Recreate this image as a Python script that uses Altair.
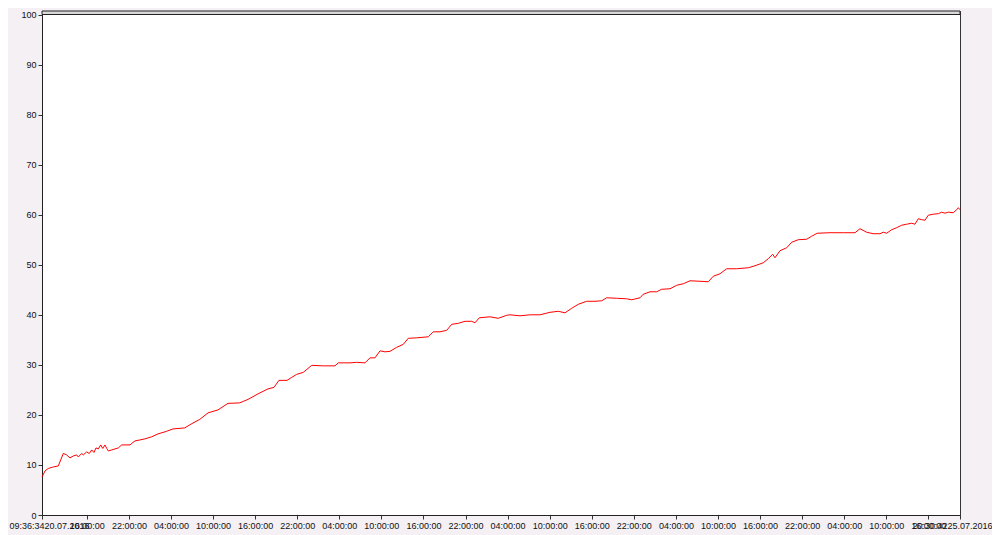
import altair as alt
import pandas as pd

# hours after start (2016-07-20 09:36:34) and measured values
hours = [0, 0.43, 0.90, 1.61, 2.32, 2.67, 3.04, 3.52, 3.99, 4.46, 4.95, 5.18, 5.66, 5.89,
         6.37, 6.74, 7.09, 7.41, 7.70, 8.03, 8.37, 8.66, 8.98, 9.23, 9.45, 9.94, 10.41,
         10.88, 11.36, 12.55, 12.79, 13.26, 13.97,
         14.64, 15.59, 16.54, 17.72,
         18.68, 20.35, 21.29, 22.49, 23.67, 25.10, 26.52, 28.19, 29.38, 30.80, 32.23,
         33.08, 33.79, 34.94, 35.61, 36.32, 37.26, 38.46, 40.11, 41.78, 42.25, 43.92,
         44.87, 46.06, 46.77, 47.48, 48.20, 48.91, 49.62, 50.58, 51.52, 52.23, 53.43,
         55.08, 55.80, 56.75, 57.71, 58.42, 59.36, 60.32, 61.27, 61.74, 62.36, 63.88,
         65.06, 66.26, 66.73, 68.16, 69.59, 71.01, 72.44, 73.62, 74.58, 75.53, 76.47,
         77.67, 78.85, 79.81, 80.52, 81.95, 83.37, 84.09, 85.27, 85.74, 86.70, 87.65,
         88.36, 89.55, 90.50, 91.44, 92.40, 93.83, 95.01, 95.72, 96.68, 97.63, 99.06,
         100.71, 101.67, 102.85, 103.56, 104.19, 104.52, 105.23, 106.19, 106.90, 107.84,
         109.04, 109.75, 110.55, 112.36, 114.26, 115.93,
         116.64, 117.59, 118.54, 119.49, 119.96, 120.45, 121.16, 121.87, 122.59, 123.30,
         124.01, 124.48, 124.96, 125.44, 125.91, 126.38, 127.09, 127.81, 128.29, 128.76,
         129.23, 129.94, 130.43, 130.66, 130.90]
values = [7.6, 8.8, 9.3, 9.6, 9.8, 11.0, 12.3, 12.0, 11.4, 11.8, 12.0, 11.6, 12.3, 12.0,
          12.6, 12.3, 13.0, 12.5, 13.4, 13.2, 14.0, 13.3, 14.0, 13.3, 12.8, 13.0, 13.2,
          13.4, 14.0, 14.0, 14.3, 14.8, 15.0,
          15.2, 15.6, 16.2, 16.7,
          17.2, 17.4, 18.2, 19.1, 20.4, 21.0, 22.3, 22.4, 23.1, 24.2, 25.2,
          25.5, 26.9, 26.9, 27.5, 28.1, 28.5, 29.9, 29.8, 29.8, 30.4, 30.4,
          30.5, 30.4, 31.4, 31.4, 32.8, 32.6, 32.7, 33.5, 34.1, 35.3, 35.4,
          35.6, 36.6, 36.6, 36.9, 38.1, 38.3, 38.7, 38.7, 38.4, 39.4, 39.6,
          39.3, 39.9, 40.0, 39.8, 40.0, 40.0, 40.5, 40.7, 40.4, 41.3, 42.1,
          42.7, 42.7, 42.8, 43.4, 43.3, 43.2, 43.0, 43.4, 44.1, 44.6, 44.6,
          45.1, 45.2, 45.9, 46.2, 46.8, 46.7, 46.6, 47.7, 48.2, 49.2, 49.2,
          49.4, 49.8, 50.4, 51.2, 52.1, 51.4, 52.8, 53.4, 54.5, 55.0,
          55.1, 55.7, 56.3, 56.4, 56.4, 56.4,
          57.2, 56.5, 56.2, 56.2, 56.5, 56.3, 57.0, 57.4, 57.9, 58.1,
          58.3, 58.1, 59.2, 59.0, 58.9, 59.9, 60.1, 60.2, 60.5, 60.3,
          60.5, 60.4, 61.0, 61.4, 61.0]

start_label = "09:36:3420.07.2016"
end_label = "20:30:4225.07.2016"
tick_times = ["2016-07-20 16:00", "2016-07-20 22:00",
              "2016-07-21 04:00", "2016-07-21 10:00", "2016-07-21 16:00", "2016-07-21 22:00",
              "2016-07-22 04:00", "2016-07-22 10:00", "2016-07-22 16:00", "2016-07-22 22:00",
              "2016-07-23 04:00", "2016-07-23 10:00", "2016-07-23 16:00", "2016-07-23 22:00",
              "2016-07-24 04:00", "2016-07-24 10:00", "2016-07-24 16:00", "2016-07-24 22:00",
              "2016-07-25 04:00", "2016-07-25 10:00", "2016-07-25 16:00"]
y_ticks = [0, 10, 20, 30, 40, 50, 60, 70, 80, 90, 100]

start = pd.Timestamp("2016-07-20 09:36:34", tz="UTC")
end = pd.Timestamp("2016-07-25 20:30:42", tz="UTC")


def ms(ts):
    return int(ts.value // 10**6)


start_ms, end_ms = ms(start), ms(end)
tick_ms = [start_ms] + [ms(pd.Timestamp(t, tz="UTC")) for t in tick_times] + [end_ms]

df = pd.DataFrame({
    "t": [start_ms + int(h * 3600 * 1000) for h in hours],
    "v": values,
})
df.loc[len(df) - 1, "t"] = end_ms

band = pd.DataFrame({"t1": [start_ms], "t2": [end_ms], "y1": [100], "y2": [100.7]})

FONT = "Liberation Sans"
FS = 9

xscale = alt.Scale(type="utc", domain=[start_ms, end_ms], nice=False)
yscale = alt.Scale(domain=[0, 100.7], nice=False, zero=False)

is_start = f"abs(toNumber(datum.value) - {start_ms}) < 1000"
is_end = f"abs(toNumber(datum.value) - {end_ms}) < 1000"
label_expr = (
    f"{is_start} ? '{start_label}' : "
    f"{is_end} ? '{end_label}' : "
    "utcFormat(datum.value, '%H:%M:%S')"
)

line = alt.Chart(df).mark_line(color="#ff0000", strokeWidth=1, interpolate="linear").encode(
    x=alt.X("t:T", scale=xscale, title=None,
            axis=alt.Axis(values=tick_ms, labelExpr=label_expr, labelOverlap=False,
                          labelFlush=False, labelBound=False, grid=False,
                          labelOffset={"condition": [{"test": is_start, "value": 7},
                                                     {"test": is_end, "value": -8}],
                                       "value": 0},
                          tickColor="#333333", domainColor="#222222", tickSize=4,
                          labelPadding=2, labelFont=FONT, labelFontSize=FS,
                          labelColor="#111111")),
    y=alt.Y("v:Q", scale=yscale, title=None,
            axis=alt.Axis(values=y_ticks, grid=False, labelOverlap=False,
                          tickColor="#333333", domainColor="#222222", tickSize=4,
                          labelPadding=2, labelFont=FONT, labelFontSize=FS,
                          labelColor="#111111")),
)

band_mark = alt.Chart(band).mark_rect(fill="#d9d9d9", stroke="#222222", strokeWidth=1).encode(
    x=alt.X("t1:T", scale=xscale),
    x2="t2:T",
    y=alt.Y("y1:Q", scale=yscale),
    y2="y2:Q",
)

chart = alt.layer(band_mark, line).properties(
    width=918,
    height=504,
    background="#f4f0f4",
    padding={"left": 34, "top": 3, "right": 32, "bottom": 20},
    autosize=alt.AutoSizeParams(type="none"),
).configure_view(
    fill="#ffffff",
    stroke="#333333",
    strokeWidth=1,
)

chart.save("out.html", embed_options={"renderer": "svg", "actions": False})
